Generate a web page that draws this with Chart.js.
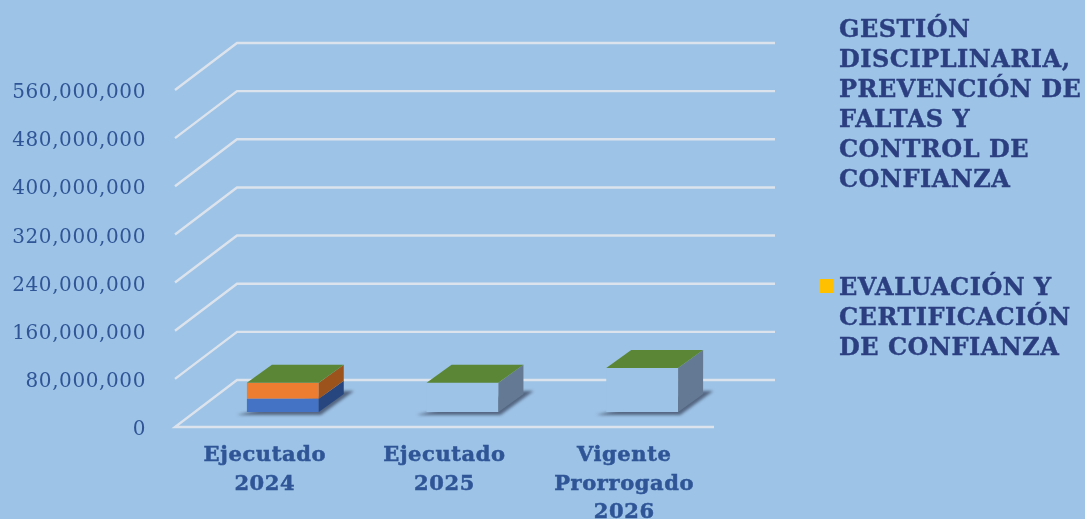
<!DOCTYPE html>
<html lang="es">
<head>
<meta charset="utf-8">
<title>Presupuesto</title>
<script src="https://cdn.jsdelivr.net/npm/chart.js@4"></script>
<style>
    html, body { margin: 0; padding: 0; background: #9DC3E6; overflow: hidden; }
    #wrap { position: relative; width: 1085px; height: 519px; }
    canvas { position: absolute; left: 0; top: 0; }
    .legend-item {
        position: absolute;
        left: 839px;
        width: 246px;
        font: bold 24px/30px "DejaVu Serif", serif;
        letter-spacing: 0.5px;
        -webkit-text-stroke: 0.4px #2B3F80;
        color: #2B3F80;
        white-space: nowrap;
    }
    .legend-item i { position: absolute; left: -20px; top: 7px; width: 15px; height: 14px; }
</style>
</head>
<body>
<div id="wrap">
    <canvas id="chart" width="1085" height="519"></canvas>
</div>
<script>
// Data
const categories = [['Ejecutado', '2024'], ['Ejecutado', '2025'], ['Vigente', 'Prorrogado', '2026']];
const blueValues = [22000000, 0, 0];
const orangeValues = [26500000, 0, 0];
const gestionValues = [0, 48500000, 73000000];
const evaluacionValues = [0, 0, 0];
const gestionLines = ['GESTIÓN', 'DISCIPLINARIA,', 'PREVENCIÓN DE', 'FALTAS Y', 'CONTROL DE', 'CONFIANZA'];
const evaluacionLines = ['EVALUACIÓN Y', 'CERTIFICACIÓN', 'DE CONFIANZA'];
const yMax = 560000000;
const yStep = 80000000;

const BG = '#9DC3E6';
const TOP_GREEN = '#5A8636';
const GRID = '#DCE3EC';

// --- Fake 3D: wall depth and how far the bars stand from the front edge ---
const WALL_DX = 62, WALL_DY = -47;
const BAR_DX = 18, BAR_DY = -15;
const DEPTH_DX = 25, DEPTH_DY = -18;

const poly = (ctx, pts, fill) => {
    ctx.beginPath();
    pts.forEach((p, i) => i ? ctx.lineTo(p[0], p[1]) : ctx.moveTo(p[0], p[1]));
    ctx.closePath();
    ctx.fillStyle = fill;
    ctx.fill();
};

const walls3d = {
    id: 'walls3d',
    afterLayout(chart) {
        // tick labels sit a little under their grid line in the original
        chart.scales.y.getLabelItems().forEach(item => { item.options.translation[1] += 3; });
    },
    beforeDraw(chart) {
        chart.ctx.letterSpacing = '0.6px';
    },
    beforeDatasetsDraw(chart) {
        const ctx = chart.ctx;
        const { left, right } = chart.chartArea;
        const yScale = chart.scales.y;

        // grid: diagonal on the left wall, then straight along the back wall
        ctx.save();
        ctx.strokeStyle = GRID;
        ctx.lineWidth = 2.4;
        yScale.ticks.forEach(t => {
            const y = yScale.getPixelForValue(t.value);
            ctx.beginPath();
            if (t.value === 0) {
                ctx.moveTo(right, y);
                ctx.lineTo(left, y);
            } else {
                ctx.moveTo(left, y);
            }
            ctx.lineTo(left + WALL_DX, y + WALL_DY);
            ctx.lineTo(right + WALL_DX - 1, y + WALL_DY);
            ctx.stroke();
        });
        ctx.restore();

        // floor shadows under each stack
        const first = chart.getDatasetMeta(0).data;
        ctx.save();
        ctx.filter = 'blur(1.5px)';
        first.forEach(bar => {
            const l = bar.x - bar.width / 2 + BAR_DX;
            const r = bar.x + bar.width / 2 + BAR_DX;
            const b = bar.base + BAR_DY;
            poly(ctx, [[l - 10, b + 3], [r + 2, b + 3], [r + 35, b - 21], [r + 25, b - 21]], 'rgba(70,85,110,0.85)');
        });
        ctx.restore();

        ctx.save();
        ctx.translate(BAR_DX, BAR_DY);
    },
    afterDatasetsDraw(chart) {
        const ctx = chart.ctx;
        // side faces per segment, then the green lid on top of each stack
        chart.data.labels.forEach((_, c) => {
            let topBar = null;
            chart.data.datasets.forEach((ds, d) => {
                const bar = chart.getDatasetMeta(d).data[c];
                if (!ds.data[c]) return;
                const r = bar.x + bar.width / 2;
                poly(ctx, [
                    [r, bar.y], [r + DEPTH_DX, bar.y + DEPTH_DY],
                    [r + DEPTH_DX, bar.base + DEPTH_DY], [r, bar.base]
                ], ds.sideColor);
                topBar = bar;
            });
            if (topBar) {
                const l = topBar.x - topBar.width / 2;
                const r = topBar.x + topBar.width / 2;
                const y = topBar.y;
                poly(ctx, [
                    [l, y], [r, y], [r + DEPTH_DX, y + DEPTH_DY], [l + DEPTH_DX, y + DEPTH_DY]
                ], TOP_GREEN);
            }
        });
        ctx.restore();
    }
};

new Chart(document.getElementById('chart'), {
    type: 'bar',
    data: {
        labels: categories,
        datasets: [
            { label: '', data: blueValues, backgroundColor: '#4472C4', sideColor: '#27467F' },
            { label: '', data: orangeValues, backgroundColor: '#ED7D31', sideColor: '#9C541C' },
            { label: gestionLines.join(' '), data: gestionValues, backgroundColor: BG, sideColor: '#647A94' },
            { label: evaluacionLines.join(' '), data: evaluacionValues, backgroundColor: '#FFC000', sideColor: '#A67C00' }
        ]
    },
    options: {
        responsive: false,
        animation: false,
        barPercentage: 0.4,
        categoryPercentage: 1,
        layout: { autoPadding: false, padding: { top: 90, right: 371 } },
        plugins: { legend: { display: false }, tooltip: { enabled: false } },
        scales: {
            x: {
                stacked: true,
                grid: { display: false },
                border: { display: false },
                afterFit: s => { s.height = 92; },
                ticks: {
                    maxRotation: 0,
                    autoSkip: false,
                    padding: 7,
                    color: '#2F5597',
                    textStrokeColor: '#2F5597',
                    textStrokeWidth: 0.5,
                    font: { family: '"DejaVu Serif", serif', size: 21, weight: 'bold', lineHeight: 1.335 }
                }
            },
            y: {
                stacked: true,
                min: 0,
                max: yMax,
                grid: { display: false },
                border: { display: false },
                afterFit: s => { s.width = 175; },
                ticks: {
                    stepSize: yStep,
                    padding: 21,
                    color: '#2F5597',
                    font: { family: '"DejaVu Serif", serif', size: 20 },
                    callback: v => v.toLocaleString('en-US')
                }
            }
        }
    },
    plugins: [walls3d]
});

// --- Legend, as the original has it: only these two entries, one marker invisible ---
const wrap = document.getElementById('wrap');
const addLegend = (lines, top, marker) => {
    const el = document.createElement('div');
    el.className = 'legend-item';
    el.style.top = top + 'px';
    el.innerHTML = lines.join('<br>');
    if (marker) {
        const m = document.createElement('i');
        m.style.background = marker;
        el.appendChild(m);
    }
    wrap.appendChild(el);
};
addLegend(gestionLines, 14, null);
addLegend(evaluacionLines, 272, '#FFC000');
</script>
</body>
</html>
